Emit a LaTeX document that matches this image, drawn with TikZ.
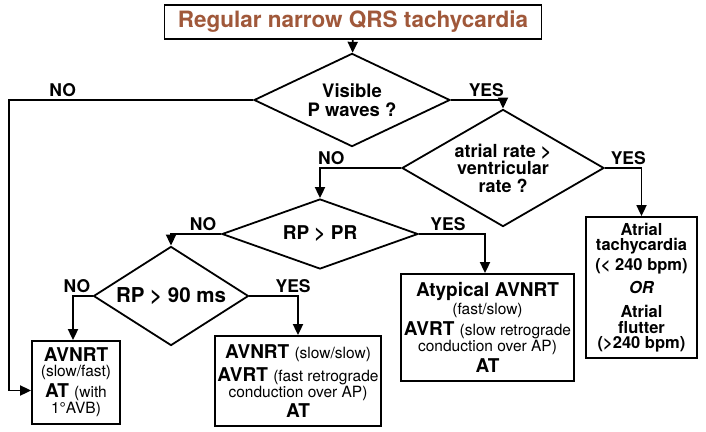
\documentclass[tikz,border=0pt]{standalone}
\usepackage{fontspec}
\setmainfont{TeX Gyre Heros}
\usetikzlibrary{shapes.geometric, arrows.meta}
\definecolor{titlebrown}{RGB}{160,88,58}
\newcommand{\bigtx}{\fontsize{19}{17}\selectfont\bfseries}
\newcommand{\smtx}{\fontsize{15.5}{16}\selectfont\mdseries}
\newcommand{\atrtx}{\fontsize{16.5}{15.5}\selectfont\bfseries}
\tikzstyle{titlebox} = [rectangle, minimum width=377pt, minimum height=34pt,
text centered, draw=black, line width=1.8pt, text=titlebrown,
font=\fontsize{22.5}{22}\selectfont\bfseries]
\tikzstyle{decision} = [diamond, inner sep=-7pt, text centered, draw=black,
line width=1.8pt, align=center, font=\fontsize{18.5}{18.5}\selectfont\bfseries]
\tikzstyle{process} = [rectangle, inner sep=0pt, text centered, draw=black,
line width=1.8pt, align=center]
\tikzstyle{arrow} = [line width=1.8pt,-{Triangle[length=11pt,width=10pt]}]
\tikzstyle{answer} = [above, inner sep=2pt, font=\fontsize{17.5}{17}\selectfont\bfseries]

\begin{document}
\begin{tikzpicture}[x=1pt,y=-1pt]
\useasboundingbox (0,0) rectangle (706,431);
%Calling the blocks
\node (title) [titlebox] at (353,22) {Regular narrow QRS tachycardia};
\node (visP) [decision, minimum width=196pt, minimum height=68pt] at (352,100) {Visible\\P waves ?};
\node (atrRate) [decision, minimum width=202pt, minimum height=82pt, font=\fontsize{18}{17.5}\selectfont\bfseries] at (503,168) {atrial rate >\\ventricular\\rate ?};
\node (rpPR) [decision, minimum width=196pt, minimum height=70pt, font=\fontsize{19}{19}\selectfont\bfseries] at (320,234) {RP > PR};
\node (rp90) [decision, minimum width=155pt, minimum height=70pt, font=\fontsize{20.5}{20}\selectfont\bfseries] at (171,296) {RP > 90 ms};
\node (avnrt) [process, minimum width=88pt, minimum height=83pt] at (76,382.5)
  {\bigtx AVNRT\\[3pt]\smtx (slow/fast)\\[2pt]\bigtx AT \smtx (with\\[1pt]\smtx 1°AVB)};
\node (avnrtSS) [process, minimum width=166pt, minimum height=90pt] at (298,381)
  {\bigtx AVNRT \smtx (slow/slow)\\[5pt]\bigtx AVRT \smtx (fast retrograde\\\smtx conduction over AP)\\[2pt]\bigtx AT};
\node (atypical) [process, minimum width=173pt, minimum height=107pt] at (487.5,327.5)
  {\bigtx Atypical AVNRT\\[1pt]\smtx (fast/slow)\\[3pt]\bigtx AVRT \smtx (slow retrograde\\\smtx conduction over AP)\\[3pt]\bigtx AT};
\node (atrial) [process, minimum width=111pt, minimum height=141pt, font=\atrtx] at (641.5,287.5)
  {Atrial\\tachycardia\\[3.5pt](< 240 bpm)\\[5.5pt]\itshape OR\\[8.5pt]\upshape Atrial\\[0.5pt]flutter\\(>240 bpm)};
\coordinate (noturn) at (9,100);
% Drawing the arrows between blocks
\draw[arrow] (title) -- (visP);
\draw[arrow] (visP.east) -| node[answer, pos=0.34] {YES} (atrRate.north);
\draw[arrow] (visP.west) -- node[answer, pos=0.78] {NO} (noturn) |- ([yshift=-8pt]avnrt.west);
\draw[arrow] (atrRate.east) -| node[answer, pos=0.32] {YES} (atrial.north);
\draw[arrow] (atrRate.west) -| node[answer, pos=0.43] {NO} (rpPR.north);
\draw[arrow] (rpPR.east) -| node[answer, pos=0.22] {YES} ([xshift=-2.5pt]atypical.north);
\draw[arrow] (rpPR.west) -| node[answer, pos=0.18] {NO} (rp90.north);
\draw[arrow] (rp90.west) -| node[answer, pos=0.4] {NO} ([xshift=-3pt]avnrt.north);
\draw[arrow] (rp90.east) -| node[answer, pos=0.45] {YES} (avnrtSS.north);
\end{tikzpicture}
\end{document}
